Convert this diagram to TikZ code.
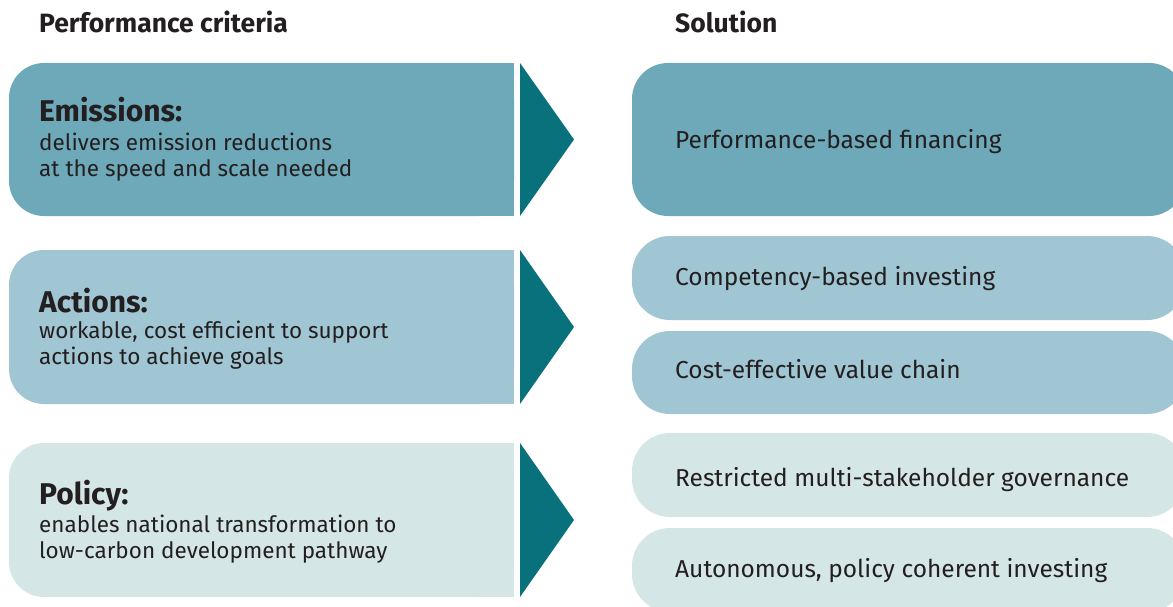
\documentclass[tikz,border=0pt]{standalone}
\usepackage{fontspec}
\setmainfont{Fira Sans}
\definecolor{emis}{HTML}{6EA9B9}
\definecolor{act}{HTML}{A0C6D3}
\definecolor{pol}{HTML}{D5E6E7}
\definecolor{arr}{HTML}{08717B}
\definecolor{txt}{HTML}{231F20}
\begin{document}
\begin{tikzpicture}[x=1pt,y=-1pt,
  hdr/.style={anchor=base west,inner sep=0pt,text=txt,font=\fontsize{26.5}{30}\selectfont\bfseries},
  ttl/.style={anchor=base west,inner sep=0pt,text=txt,font=\fontsize{30}{34}\selectfont\bfseries},
  body/.style={anchor=base west,inner sep=0pt,text=txt,align=left,font=\fontsize{22.5}{26}\selectfont},
  sol/.style={anchor=base west,inner sep=0pt,text=txt,font=\fontsize{24.5}{28}\selectfont},
  tri/.style={fill=arr}]
\useasboundingbox (0,0) rectangle (1173,607);
\clip (0,0) rectangle (1173,607);
% left boxes
\fill[emis,rounded corners=35] (9,63) rectangle (514,216);
\fill[emis] (300,63) rectangle (514,216);
\fill[act,rounded corners=35] (9,250) rectangle (514,404);
\fill[act] (300,250) rectangle (514,404);
\fill[pol,rounded corners=35] (9,443) rectangle (514,597);
\fill[pol] (300,443) rectangle (514,597);
% arrows
\fill[tri] (520,63) -- (574,139.5) -- (520,216) -- cycle;
\fill[tri] (520,250) -- (574,327) -- (520,404) -- cycle;
\fill[tri] (520,443) -- (574,520) -- (520,597) -- cycle;
% right boxes
\fill[emis,rounded corners=36] (632,63) rectangle (1185,216);
\fill[act,rounded corners=38] (632,236) rectangle (1185,320);
\fill[act,rounded corners=38] (632,331) rectangle (1185,414);
\fill[pol,rounded corners=38] (632,433) rectangle (1185,517);
\fill[pol,rounded corners=38] (632,528) rectangle (1185,612);
% headers
\node[hdr] (h1) at (39,33) {Performance criteria};
\node[hdr] (h2) at (675,33) {Solution};
% left texts
\node[ttl] (t1) at (39,122) {Emissions:};
\node[body] (b1) at (39,176) {delivers emission reductions\\at the speed and scale needed};
\node[ttl] (t2) at (39,312) {Actions:};
\node[body] (b2) at (39,364) {workable, cost efficient to support\\actions to achieve goals};
\node[ttl] (t3) at (39,504) {Policy:};
\node[body] (b3) at (39,558) {enables national transformation to\\low-carbon development pathway};
% right texts
\node[sol] (s1) at (675,149) {Performance-based financing};
\node[sol] (s2) at (675,285) {Competency-based investing};
\node[sol] (s3) at (675,378) {Cost-effective value chain};
\node[sol] (s4) at (675,486) {Restricted multi-stakeholder governance};
\node[sol] (s5) at (675,577) {Autonomous, policy coherent investing};
\end{tikzpicture}
\end{document}
